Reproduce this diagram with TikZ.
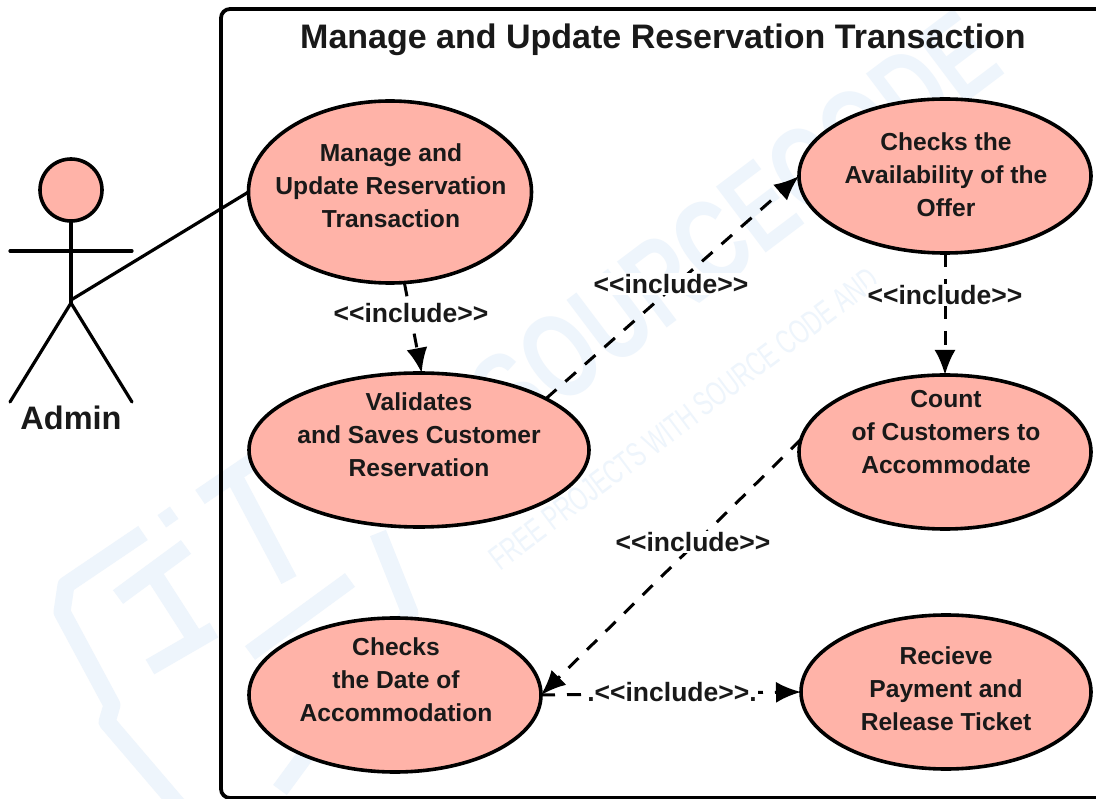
\documentclass[tikz,border=0pt]{standalone}
\usepackage{fontspec}
\setmainfont{Liberation Sans}
\usetikzlibrary{shapes.geometric,arrows.meta}
\definecolor{ucfill}{HTML}{FFB3A8}
\definecolor{wm}{HTML}{EEF5FC}
\newcommand{\incl}{{<}{<}include{>}{>}}
\tikzset{
  uc/.style={ellipse,draw=black,fill=ucfill,line width=3.6pt,inner sep=0pt,outer sep=0pt,minimum width=#1},
  uctext/.style={align=center,inner sep=0pt,font=\fontsize{24.6}{33}\selectfont\bfseries,text=black!90},
  lab/.style={fill=white,inner sep=1pt,font=\fontsize{26.5}{30}\selectfont\bfseries,text=black!90},
  dep/.style={line width=3pt,dash pattern=on 14pt off 12pt,-{Latex[length=25pt,width=21pt]}},
  actorline/.style={line width=3.2pt,line cap=round},
  wmline/.style={wm,line width=17pt,line join=round}
}
\begin{document}
\begin{tikzpicture}[x=1pt,y=-1pt]
\clip (0,0) rectangle (1096,799);
\fill[white] (0,0) rectangle (1096,799);
% watermark
\draw[wmline] (178,805) -- (107,722) -- (112,705) -- (62,612) -- (66,585) -- (143,533);
\draw[wmline] (118,597) -- (186,547);
\draw[wmline] (153,573) -- (196,640);
\draw[wmline] (150,667) -- (214,630);
\draw[wmline] (200,497) -- (262,455);
\draw[wmline] (236,480) -- (289,580);
\draw[wmline] (378,533) -- (410,613) -- (280,790);
\draw[wmline] (250,653) -- (350,580);
\node (wmdot) [fill=wm,rotate=35,minimum size=15pt,inner sep=0pt] at (168,517) {};
\node (wmtitle) [rotate=37,text=wm,font=\fontsize{120}{120}\selectfont\bfseries,xscale=.72,inner sep=0pt] at (735,225) {SOURCECODE};
\node (wmsub) [rotate=37,text=wm,font=\fontsize{34}{34}\selectfont,xscale=.66,inner sep=0pt] at (684,419) {FREE PROJECTS WITH SOURCE CODE AND};
% frame
\draw[line width=3.8pt,rounded corners=9pt] (1110,9) -- (221,9) -- (221,798) -- (1110,798);
\node (title) [font=\fontsize{34}{40}\selectfont\bfseries,text=black!90,inner sep=0pt] at (663,40) {Manage and Update Reservation Transaction};
% use cases
\node (A) [uc=283pt,minimum height=182pt] at (390,192) {};
\node (B) [uc=340pt,minimum height=154pt] at (419,450) {};
\node (C) [uc=292pt,minimum height=154pt] at (945,176) {};
\node (D) [uc=292pt,minimum height=154pt] at (945,452) {};
\node (E) [uc=292pt,minimum height=154pt] at (395,695) {};
\node (F) [uc=290pt,minimum height=154pt] at (946,692) {};
\node (Atext) [uctext] at (391,186) {Manage and\\Update Reservation\\Transaction};
\node (Btext) [uctext] at (419,435) {Validates\\and Saves Customer\\Reservation};
\node (Ctext) [uctext] at (946,175) {Checks the\\Availability of the\\Offer};
\node (Dtext) [uctext] at (946,432) {Count\\of Customers to\\Accommodate};
\node (Etext) [uctext] at (396,680) {Checks\\the Date of\\Accommodation};
\node (Ftext) [uctext] at (946,689) {Recieve\\Payment and\\Release Ticket};
% actor
\node (head) [circle,draw=black,fill=ucfill,line width=3.6pt,minimum size=62pt,inner sep=0pt,outer sep=0pt] at (71,190) {};
\coordinate (hip) at (71,303);
\coordinate (armL) at (10,251);
\coordinate (armR) at (132,251);
\coordinate (footL) at (10,402);
\coordinate (footR) at (132,402);
\draw[actorline] (head.south) -- (hip);
\draw[actorline] (armL) -- (armR);
\draw[actorline] (footL) -- (hip) -- (footR);
\node (admin) [font=\fontsize{32.5}{36}\selectfont\bfseries,text=black!90,inner sep=0pt] at (71,418) {Admin};
\draw[line width=3.2pt] (71,300) -- (A.west);
% dependencies
\draw[dep] (A.-81) -- (B.88);
\draw[dep] (B.22) -- (C.west);
\draw[dep] (C.south) -- (D.north);
\draw[dep] (D.175) -- (E.east);
\draw[dep] (E.east) -- (F.west);
\node (l1) [lab] at (411,313) {\incl};
\node (l2) [lab] at (671,284) {\incl};
\node (l3) [lab] at (945,295) {\incl};
\node (l4) [lab] at (693,542) {\incl};
\node (l5) [lab] at (672,692) {.\incl.};
\end{tikzpicture}
\end{document}
